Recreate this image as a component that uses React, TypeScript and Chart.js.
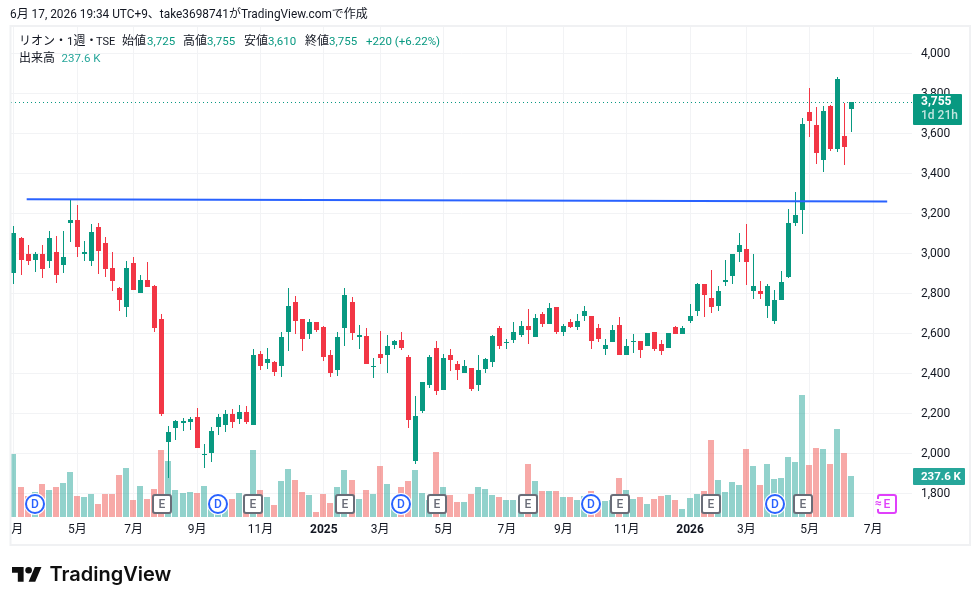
import React, { useEffect, useRef } from "react";
import { Chart, registerables } from "chart.js";

Chart.register(...registerables);

const opens = [
  2905,3080,3000,2970,3000,2965,3005,2945,3155,3170,
  3000,2965,3135,3055,2930,2830,2735,2955,2805,2870,
  2840,2670,2060,2130,2155,2160,2185,1990,2005,2135,
  2145,2200,2175,2210,2145,2500,2455,2460,2440,2610,
  2760,2675,2600,2660,2635,2490,2420,2630,2760,2585,
  2590,2435,2500,2490,2545,2570,2485,1965,2215,2345,
  2530,2320,2490,2445,2405,2430,2345,2425,2460,2625,
  2555,2570,2595,2640,2580,2700,2650,2735,2610,2660,
  2635,2690,2690,2630,2525,2560,2645,2495,2560,2565,
  2540,2610,2550,2530,2635,2600,2665,2715,2850,2780,
  2740,2860,2890,3010,3025,2810,2815,2740,2665,2765,
  2885,3155,3220,3705,3640,3470,3740,3525,3590,3725,
];
const highs = [
  3140,3085,3045,3010,3045,3115,3090,3115,3270,3245,
  3065,3150,3155,3085,3005,2835,2965,2985,2895,2960,
  2845,2700,2140,2170,2180,2185,2230,2050,2135,2200,
  2220,2225,2245,2240,2525,2515,2530,2465,2610,2830,
  2790,2675,2675,2660,2640,2520,2610,2830,2785,2645,
  2630,2480,2615,2595,2570,2610,2490,2290,2360,2490,
  2565,2500,2525,2465,2470,2430,2490,2480,2595,2640,
  2575,2660,2665,2725,2700,2710,2755,2735,2650,2675,
  2700,2740,2690,2650,2575,2645,2685,2575,2600,2565,
  2605,2610,2570,2605,2640,2640,2750,2855,2850,2920,
  2840,2970,3000,3105,3145,3000,2865,2850,2820,2915,
  3225,3310,3680,3830,3730,3740,3745,3885,3750,3755,
];
const lows = [
  2850,2895,2945,2910,2880,2930,2855,2905,3060,2985,
  2965,2940,2900,2885,2815,2715,2685,2820,2805,2835,
  2610,2190,1880,2070,2115,2120,2030,1930,1960,2095,
  2110,2130,2150,2150,2145,2420,2425,2390,2385,2515,
  2600,2515,2575,2610,2465,2385,2390,2535,2570,2525,
  2445,2380,2445,2400,2525,2520,2130,1950,2205,2330,
  2295,2320,2415,2370,2405,2310,2310,2400,2435,2525,
  2525,2555,2580,2550,2580,2635,2650,2600,2590,2630,
  2620,2665,2525,2560,2490,2560,2495,2495,2505,2480,
  2540,2515,2490,2530,2600,2600,2655,2690,2685,2705,
  2715,2840,2850,2960,2845,2775,2775,2680,2650,2765,
  2880,3140,3095,3585,3450,3410,3515,3510,3445,3610,
];
const closes = [
  3100,2970,2965,3000,2925,3075,2895,2985,3170,3035,
  3010,3110,3015,2925,2865,2765,2930,2820,2870,2835,
  2625,2200,2110,2165,2165,2175,2030,2000,2115,2185,
  2200,2160,2210,2160,2495,2440,2475,2410,2580,2740,
  2665,2575,2660,2620,2485,2405,2585,2795,2605,2595,
  2450,2440,2480,2540,2565,2530,2170,2190,2360,2485,
  2310,2480,2470,2420,2440,2325,2420,2475,2590,2540,
  2560,2610,2640,2620,2680,2650,2730,2610,2640,2635,
  2665,2715,2565,2575,2545,2620,2495,2540,2565,2520,
  2605,2525,2515,2605,2600,2625,2690,2850,2795,2735,
  2815,2870,3000,3045,2960,2840,2800,2840,2770,2860,
  3155,3195,3650,3660,3505,3715,3525,3870,3530,3755,
];
const volumes = [
  365,174,122,145,191,156,174,197,261,122,
  116,133,75,133,133,243,284,99,180,104,
  162,388,325,156,139,145,139,180,89,99,
  99,104,139,69,388,156,116,70,209,278,
  214,145,128,29,133,81,174,272,214,104,
  156,133,296,191,99,174,209,272,139,99,
  377,174,128,87,87,133,174,162,128,116,
  99,99,108,307,209,151,151,151,116,116,
  99,122,151,104,93,99,226,156,104,116,
  75,104,122,128,99,46,110,133,151,446,
  214,145,203,185,394,296,185,307,220,226,
  348,319,707,301,400,394,307,510,371,237.6,
];

const timeTickIndex = [0, 9, 17, 26, 35, 44, 52, 61, 70, 78, 87, 96, 104, 113, 122];
const timeTickLabels = ["3月","5月","7月","9月","11月","2025","3月","5月","7月","9月","11月","2026","3月","5月","7月"];
const priceTicks = [1800, 2000, 2200, 2400, 2600, 2800, 3000, 3200, 3400, 3600, 3800, 4000];

const dividendIndex = [3, 29, 55, 82, 108];
const earningsIndex = [21, 34, 47, 60, 73, 86, 99, 112];
const expectedEarningsIndex = [124];

const trendX = [1.8, 124];
const trendY = [3271, 3260];

const headerText = "6月 17, 2026 19:34 UTC+9、take3698741がTradingView.comで作成";
const lastPriceLabel = "3,755";
const countdownLabel = "1d 21h";
const lastVolumeLabel = "237.6 K";

const UP = "#089981";
const DOWN = "#F23645";
const VOL_UP = "rgba(38,166,154,0.5)";
const VOL_DOWN = "rgba(239,83,80,0.5)";
const GRID = "#f2f3f5";
const TEXT = "#131722";
const BLUE = "#2962ff";
const GRAY_MARK = "#6a6d78";
const PINK = "#e040fb";
const FONT = 'Roboto, "Noto Sans CJK JP", sans-serif';

const isUp = (i: number) => closes[i] >= opens[i];
const index = opens.map((_, i) => i);

function roundRect(ctx: CanvasRenderingContext2D, x: number, y: number, w: number, h: number, r: number) {
  ctx.beginPath();
  ctx.roundRect(x, y, w, h, r);
}

// CJK runs stay at 12px, Latin runs are drawn slightly narrower
function drawRuns(ctx: CanvasRenderingContext2D, text: string, x: number, y: number, latinSize: number) {
  const runs = text.match(/[\u3000-\u9fff]+|[^\u3000-\u9fff]+/g) || [];
  let cx = x;
  runs.forEach((run) => {
    const cjk = /[\u3000-\u9fff]/.test(run);
    ctx.font = `${cjk ? 12 : latinSize}px ${FONT}`;
    ctx.fillText(run, cx, y);
    cx += ctx.measureText(run).width;
  });
}

const snapPlugin = {
  id: "snap",
  beforeDatasetsDraw(chart: any) {
    chart.data.datasets.forEach((ds: any, di: number) => {
      if (ds.type === "line") return;
      chart.getDatasetMeta(di).data.forEach((el: any) => {
        el.x = ds.snapInteger ? Math.floor(el.x) : Math.floor(el.x) + 0.5;
        el.y = Math.round(el.y);
        el.base = Math.round(el.base);
        if (el.y === el.base) el.base += 1;
      });
    });
  },
};

const overlayPlugin = {
  id: "overlay",
  afterDatasetsDraw(chart: any) {
    const ctx: CanvasRenderingContext2D = chart.ctx;
    const xs = chart.scales.x;
    const cy = 504;
    ctx.save();
    ctx.textAlign = "center";
    ctx.textBaseline = "middle";
    ctx.font = `500 12px ${FONT}`;
    earningsIndex.forEach((i) => {
      const x = Math.round(xs.getPixelForValue(i));
      roundRect(ctx, x - 9, cy - 9, 18, 18, 2);
      ctx.fillStyle = "#fff";
      ctx.fill();
      ctx.lineWidth = 2;
      ctx.strokeStyle = GRAY_MARK;
      ctx.stroke();
      ctx.fillStyle = GRAY_MARK;
      ctx.fillText("E", x, cy + 0.5);
    });
    dividendIndex.forEach((i) => {
      const x = Math.round(xs.getPixelForValue(i));
      ctx.beginPath();
      ctx.arc(x, cy, 11, 0, Math.PI * 2);
      ctx.fillStyle = "#fff";
      ctx.fill();
      ctx.beginPath();
      ctx.arc(x, cy, 9, 0, Math.PI * 2);
      ctx.lineWidth = 2;
      ctx.strokeStyle = BLUE;
      ctx.stroke();
      ctx.fillStyle = BLUE;
      ctx.fillText("D", x, cy + 0.5);
    });
    expectedEarningsIndex.forEach((i) => {
      const x = Math.round(xs.getPixelForValue(i));
      roundRect(ctx, x - 9, cy - 9, 18, 18, 2);
      ctx.fillStyle = "#fff";
      ctx.fill();
      ctx.lineWidth = 2;
      ctx.strokeStyle = PINK;
      ctx.stroke();
      ctx.fillStyle = "#fff";
      ctx.fillRect(x - 12, cy - 5, 7, 10);
      ctx.fillStyle = PINK;
      ctx.fillText("E", x, cy + 0.5);
      ctx.font = `700 12px ${FONT}`;
      ctx.fillText("≈", x - 8.5, cy - 0.5);
    });
    ctx.restore();
  },
  afterDraw(chart: any) {
    const ctx: CanvasRenderingContext2D = chart.ctx;
    ctx.save();
    // clip of the time scale at the chart frame
    ctx.fillStyle = "#fff";
    ctx.fillRect(0, 517, 11, 30);
    // chart frame
    ctx.strokeStyle = "#f0f1f3";
    ctx.lineWidth = 2;
    ctx.strokeRect(10.5, 26, 959.5, 519);

    ctx.textAlign = "left";
    ctx.textBaseline = "middle";
    ctx.fillStyle = TEXT;
    drawRuns(ctx, headerText, 10, 15, 11.85);

    const row1 = 42;
    const row2 = 59;
    ctx.fillStyle = TEXT;
    drawRuns(ctx, "リオン・1週・", 19, row1, 11.5);
    ctx.font = `11px ${FONT}`;
    ctx.fillText("TSE", 96, row1);
    ctx.font = `12px ${FONT}`;
    ctx.fillText("始値", 122, row1);
    ctx.fillText("高値", 183, row1);
    ctx.fillText("安値", 244, row1);
    ctx.fillText("終値", 305, row1);
    ctx.fillText("出来高", 19, row2);
    ctx.font = `11.5px ${FONT}`;
    ctx.fillStyle = UP;
    ctx.fillText("3,725", 147, row1);
    ctx.fillText("3,755", 207, row1);
    ctx.fillText("3,610", 268, row1);
    ctx.fillText("3,755", 329, row1);
    ctx.fillText("+220 (+6.22%)", 366, row1);
    ctx.fillStyle = "#26a69a";
    ctx.fillText("237.6 K", 61.5, row2);

    // last price badge
    ctx.fillStyle = UP;
    roundRect(ctx, 913, 94, 49, 31, 1);
    ctx.fill();
    ctx.fillStyle = "#fff";
    ctx.font = `700 12px ${FONT}`;
    ctx.fillText(lastPriceLabel, 921, 102);
    ctx.fillStyle = "rgba(255,255,255,0.75)";
    ctx.font = `500 12px ${FONT}`;
    ctx.fillText(countdownLabel, 921, 116);

    // last volume badge
    ctx.fillStyle = "#26a69a";
    roundRect(ctx, 913, 468, 52, 17, 1);
    ctx.fill();
    ctx.fillStyle = "#fff";
    ctx.font = `700 11.5px ${FONT}`;
    ctx.fillText(lastVolumeLabel, 921, 477);

    // TradingView logo
    ctx.fillStyle = "#0f0f0f";
    ctx.save();
    ctx.translate(12, 563.7);
    ctx.scale(0.83, 0.817);
    ctx.fill(new Path2D("M14 22H7V11H0V4h14v18zM28 22h-8l7.5-18h8L28 22z"));
    ctx.beginPath();
    ctx.arc(20, 8, 4, 0, Math.PI * 2);
    ctx.fill();
    ctx.restore();
    ctx.font = `600 20px Inter, ${FONT}`;
    ctx.fillText("TradingView", 49.5, 575);
    ctx.restore();
  },
};

export default function App() {
  const ref = useRef<HTMLCanvasElement>(null);

  useEffect(() => {
    const canvas = ref.current;
    if (!canvas) return;
    const pxPerBar = 7.042;
    const firstBarPx = 13.995;
    const left = 11;
    const right = 912;
    const chart = new Chart(canvas, {
      type: "bar",
      data: {
        datasets: [
          {
            type: "line",
            data: trendX.map((x, i) => ({ x, y: trendY[i] })),
            borderColor: BLUE,
            borderWidth: 2,
            pointRadius: 0,
            order: 1,
            yAxisID: "y",
          },
          {
            type: "line",
            data: [
              { x: (left - firstBarPx) / pxPerBar, y: closes[closes.length - 1] },
              { x: (right - firstBarPx) / pxPerBar, y: closes[closes.length - 1] },
            ],
            borderColor: UP,
            borderWidth: 1,
            borderDash: [1, 3],
            pointRadius: 0,
            order: 2,
            yAxisID: "y",
          },
          {
            type: "bar",
            data: index.map((i) => ({ x: i, y: [opens[i], closes[i]] })),
            backgroundColor: index.map((i) => (isUp(i) ? UP : DOWN)),
            barThickness: 5,
            grouped: false,
            borderWidth: 0,
            inflateAmount: 0,
            order: 3,
            yAxisID: "y",
          },
          {
            type: "bar",
            data: index.map((i) => ({ x: i, y: [lows[i], highs[i]] })),
            backgroundColor: index.map((i) => (isUp(i) ? UP : DOWN)),
            barThickness: 1,
            grouped: false,
            borderWidth: 0,
            inflateAmount: 0,
            order: 4,
            yAxisID: "y",
          },
          {
            type: "bar",
            data: index.map((i) => ({ x: i, y: volumes[i] })),
            backgroundColor: index.map((i) => (isUp(i) ? VOL_UP : VOL_DOWN)),
            barThickness: 6,
            grouped: false,
            borderWidth: 0,
            inflateAmount: 0,
            order: 5,
            yAxisID: "yVol",
            snapInteger: true,
          },
        ] as any,
      },
      options: {
        animation: false,
        responsive: false,
        devicePixelRatio: 1,
        layout: { autoPadding: false, padding: { left, top: 27, right: 10, bottom: 60 } },
        plugins: { legend: { display: false }, tooltip: { enabled: false } },
        scales: {
          x: {
            type: "linear",
            offset: false,
            min: (left - firstBarPx) / pxPerBar,
            max: (right - firstBarPx) / pxPerBar,
            afterBuildTicks: (s: any) => {
              s.ticks = timeTickIndex.map((value) => ({ value }));
            },
            afterFit: (s: any) => {
              s.height = 28;
              s.paddingLeft = 0;
              s.paddingRight = 0;
            },
            grid: { color: GRID, drawTicks: false, offset: false },
            border: { display: false },
            ticks: {
              autoSkip: false,
              maxRotation: 0,
              padding: 6,
              color: TEXT,
              callback: (v: any) => timeTickLabels[timeTickIndex.indexOf(Number(v))],
              font: (c: any) => {
                const l = timeTickLabels[c.index] || "";
                return { family: FONT, size: 12, weight: l.length === 4 ? 700 : 400 };
              },
            },
          },
          y: {
            type: "linear",
            position: "right",
            min: 1682.5,
            max: 4132.5,
            afterBuildTicks: (s: any) => {
              s.ticks = priceTicks.map((value) => ({ value }));
            },
            afterFit: (s: any) => {
              s.width = 58;
              s.paddingTop = 0;
              s.paddingBottom = 0;
            },
            grid: { color: GRID, drawTicks: false },
            border: { display: false },
            ticks: {
              padding: 9,
              color: TEXT,
              font: { family: FONT, size: 12 },
              callback: (v: any) => Number(v).toLocaleString("en-US"),
            },
          },
          yVol: {
            type: "linear",
            display: false,
            min: 0,
            max: 2840,
          },
        },
      } as any,
      plugins: [snapPlugin, overlayPlugin] as any,
    });
    return () => chart.destroy();
  }, []);

  return (
    <canvas
      ref={ref}
      width={980}
      height={605}
      style={{ position: "absolute", left: 0, top: 0, display: "block", width: 980, height: 605 }}
    />
  );
}
